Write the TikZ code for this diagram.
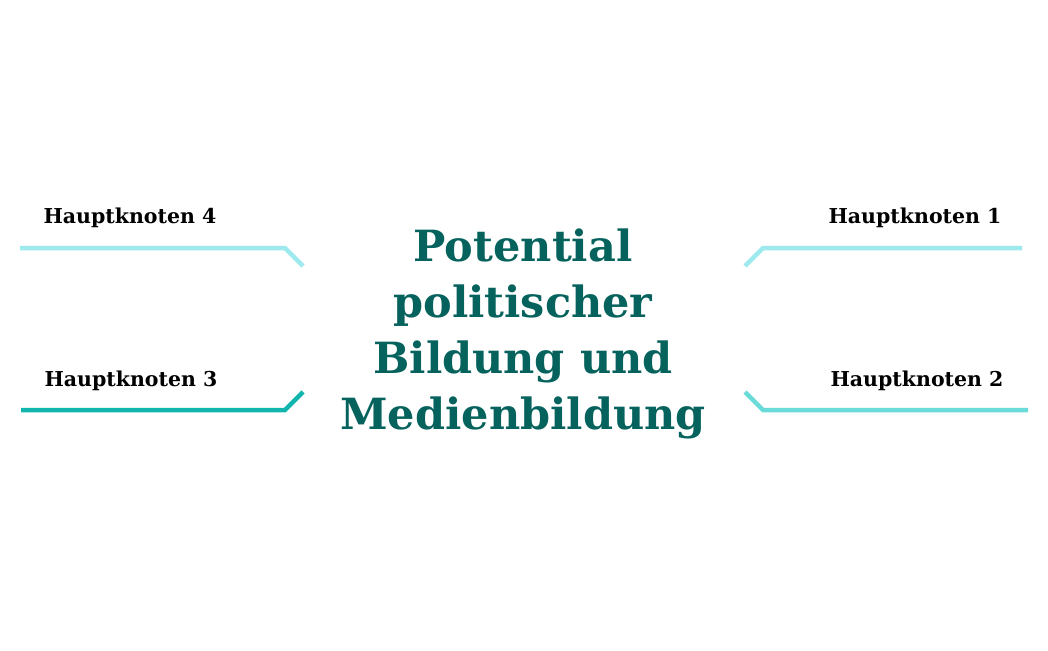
\documentclass[tikz,border=0pt]{standalone}
\usepackage{fontspec}
\setmainfont{DejaVu Serif}
\usepackage{tikz}
\usetikzlibrary{positioning}

\definecolor{pale}{HTML}{9EE9EE}
\definecolor{mid}{HTML}{6ADBD8}
\definecolor{deep}{HTML}{12B5AE}
\definecolor{title}{HTML}{05625C}

\begin{document}
\begin{tikzpicture}[
      x=1pt, y=-1pt,
      branch/.style={line width=4.5pt},
      label/.style={font=\bfseries\fontsize{20.5}{24}\selectfont, text=black, inner sep=0pt},
      centre/.style={font=\bfseries\fontsize{43}{56}\selectfont, text=title, align=center, inner sep=0pt}
    ]
    \useasboundingbox (0,0) rectangle (1048,650);

    % Nodes
    \node[centre] (topic) at (523,334) {Potential\\politischer\\Bildung und\\Medienbildung};
    \node[label] (hk4) at (130,218) {Hauptknoten 4};
    \node[label] (hk3) at (131,381) {Hauptknoten 3};
    \node[label] (hk1) at (915,218) {Hauptknoten 1};
    \node[label] (hk2) at (917,381) {Hauptknoten 2};

    % Branch ends
    \coordinate (a4) at (20,248);   \coordinate (b4) at (303,266);
    \coordinate (a3) at (21,410);   \coordinate (b3) at (303,392);
    \coordinate (a1) at (1022,248); \coordinate (b1) at (745,266);
    \coordinate (a2) at (1028,410); \coordinate (b2) at (745,392);

    % Branches
    \draw[branch, pale] (a4) -- (285,248) -- (b4);
    \draw[branch, deep] (a3) -- (285,410) -- (b3);
    \draw[branch, pale] (a1) -- (763,248) -- (b1);
    \draw[branch, mid] (a2) -- (763,410) -- (b2);

  \end{tikzpicture}
\end{document}
